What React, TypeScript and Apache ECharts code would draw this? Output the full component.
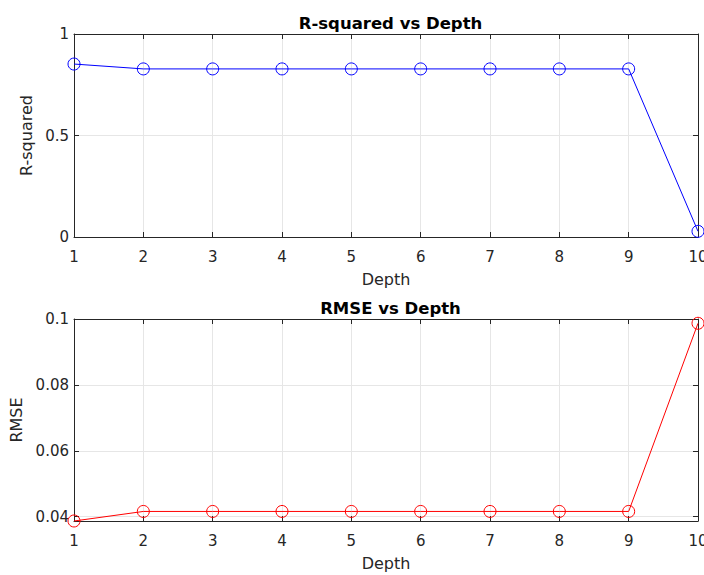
import React, { useEffect, useRef } from "react";
import * as echarts from "echarts";

const depths = [1, 2, 3, 4, 5, 6, 7, 8, 9, 10];
const rSquared = [0.852, 0.828, 0.828, 0.828, 0.828, 0.828, 0.828, 0.828, 0.828, 0.028];
const rmse = [0.0387, 0.0416, 0.0416, 0.0416, 0.0416, 0.0416, 0.0416, 0.0416, 0.0416, 0.0987];
const xTicks = [1, 2, 3, 4, 5, 6, 7, 8, 9, 10];
const rTicks = [0, 0.5, 1];
const rmseTicks = [0.04, 0.06, 0.08, 0.1];

const FONT = "DejaVu Sans, Liberation Sans, Arial, sans-serif";
const AX = "#262626";
const GRIDC = "#e6e6e6";
const TICK_FS = 15;
const NAME_FS = 16;
const TITLE_FS = 16.5;

export default function App() {
  const ref = useRef<HTMLDivElement>(null);
  useEffect(() => {
    if (!ref.current) return;
    const chart = echarts.init(ref.current, undefined, { renderer: "svg" });
    const grids = [
      { left: 74, right: 6, top: 34, height: 203, outerBoundsMode: "none", containLabel: false },
      { left: 74, right: 6, top: 319, height: 202, outerBoundsMode: "none", containLabel: false },
    ];
    const xAxisBase = (gridIndex: number) => ({
      type: "value",
      gridIndex,
      min: xTicks[0],
      max: xTicks[xTicks.length - 1],
      interval: 1,
      axisLine: { show: true, onZero: false, lineStyle: { color: AX, width: 1 } },
      axisTick: { show: true, inside: true, length: 5, lineStyle: { color: AX } },
      splitLine: { show: true, lineStyle: { color: GRIDC, width: 1 } },
      axisLabel: {
        color: AX,
        fontSize: TICK_FS,
        fontFamily: FONT,
        margin: 12,
        hideOverlap: false,
        formatter: (v: number) => String(v),
      },
      name: "Depth",
      nameLocation: "middle",
      nameGap: 34,
      nameTextStyle: { color: AX, fontSize: NAME_FS, fontFamily: FONT },
    });
    const xTop = (gridIndex: number) => ({
      type: "value",
      gridIndex,
      position: "top",
      min: xTicks[0],
      max: xTicks[xTicks.length - 1],
      interval: 1,
      axisLine: { show: true, onZero: false, lineStyle: { color: AX, width: 1 } },
      axisTick: { show: true, inside: true, length: 5, lineStyle: { color: AX } },
      splitLine: { show: false },
      axisLabel: { show: false },
    });
    const yRight = (gridIndex: number, min: number, max: number, ticks: number[]) => ({
      type: "value",
      gridIndex,
      position: "right",
      min,
      max,
      axisLine: { show: true, onZero: false, lineStyle: { color: AX, width: 1 } },
      axisTick: { show: true, inside: true, length: 5, customValues: ticks, lineStyle: { color: AX } },
      splitLine: { show: false },
      axisLabel: { show: false, customValues: ticks },
    });
    const option = {
      animation: false,
      backgroundColor: "#ffffff",
      title: [
        {
          text: "R-squared vs Depth",
          left: 385.5,
          textAlign: "center",
          top: 10,
          textStyle: { fontSize: TITLE_FS, fontWeight: "bold", color: "#000", fontFamily: FONT },
        },
        {
          text: "RMSE vs Depth",
          left: 385.5,
          textAlign: "center",
          top: 295,
          textStyle: { fontSize: TITLE_FS, fontWeight: "bold", color: "#000", fontFamily: FONT },
        },
      ],
      grid: grids,
      xAxis: [xAxisBase(0), xAxisBase(1), xTop(0), xTop(1)],
      yAxis: [
        {
          type: "value",
          gridIndex: 0,
          min: rTicks[0],
          max: rTicks[rTicks.length - 1],
          interval: 0.5,
          name: "R-squared",
          nameLocation: "middle",
          nameGap: 34,
          nameTextStyle: { color: AX, fontSize: NAME_FS, fontFamily: FONT },
          axisLine: { show: true, onZero: false, lineStyle: { color: AX, width: 1 } },
          axisTick: { show: true, inside: true, length: 5, lineStyle: { color: AX } },
          splitLine: { show: true, lineStyle: { color: GRIDC } },
          axisLabel: { color: AX, fontSize: TICK_FS, fontFamily: FONT, margin: 5, formatter: (v: number) => String(v) },
        },
        {
          type: "value",
          gridIndex: 1,
          min: 0.0387,
          max: 0.1,
          name: "RMSE",
          nameLocation: "middle",
          nameGap: 45,
          nameTextStyle: { color: AX, fontSize: NAME_FS, fontFamily: FONT },
          axisLine: { show: true, onZero: false, lineStyle: { color: AX, width: 1 } },
          axisTick: { show: true, inside: true, length: 5, customValues: rmseTicks, lineStyle: { color: AX } },
          splitLine: { show: true, lineStyle: { color: GRIDC } },
          axisLabel: {
            color: AX,
            fontSize: TICK_FS,
            fontFamily: FONT,
            margin: 5,
            customValues: rmseTicks,
            formatter: (v: number) => String(Math.round(v * 100) / 100),
          },
        },
        yRight(0, rTicks[0], rTicks[rTicks.length - 1], rTicks),
        yRight(1, 0.0387, 0.1, rmseTicks),
      ],
      series: [
        {
          type: "line",
          xAxisIndex: 0,
          yAxisIndex: 0,
          data: depths.map((d, i) => [d, rSquared[i]]),
          symbol: "circle",
          symbolSize: 12,
          itemStyle: { color: "rgba(0,0,0,0)", borderColor: "#0000ff", borderWidth: 1 },
          lineStyle: { color: "#0000ff", width: 1 },
          clip: false,
          z: 5,
        },
        {
          type: "line",
          xAxisIndex: 1,
          yAxisIndex: 1,
          data: depths.map((d, i) => [d, rmse[i]]),
          symbol: "circle",
          symbolSize: 12,
          itemStyle: { color: "rgba(0,0,0,0)", borderColor: "#ff0000", borderWidth: 1 },
          lineStyle: { color: "#ff0000", width: 1 },
          clip: false,
          z: 5,
        },
      ],
    };
    chart.setOption(option as any);
    return () => chart.dispose();
  }, []);
  return <div ref={ref} style={{ width: 704, height: 575, position: "absolute", left: 0, top: 0 }} />;
}
